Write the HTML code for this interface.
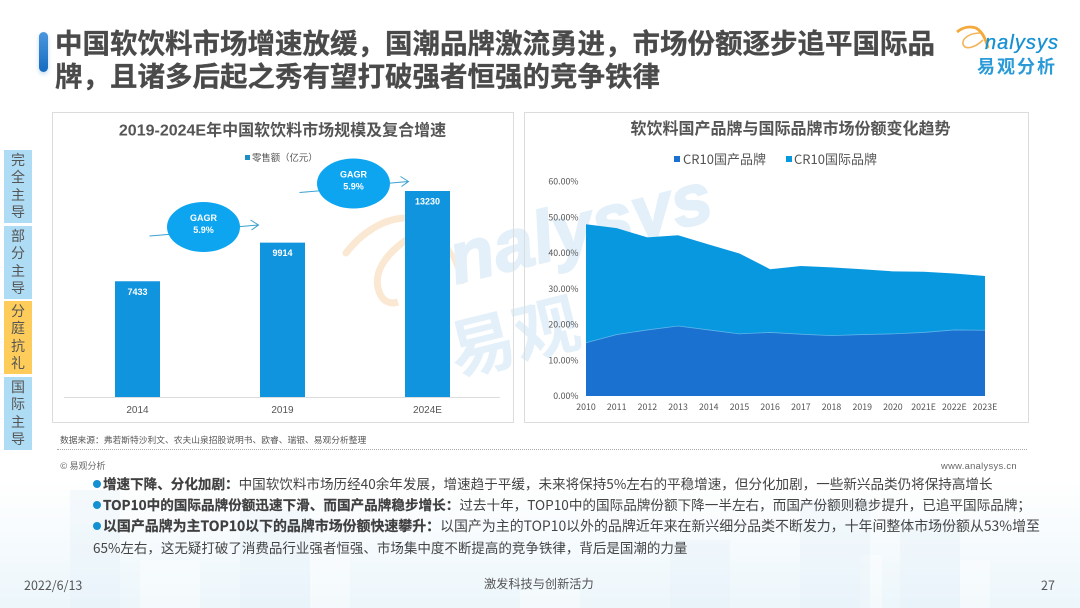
<!DOCTYPE html>
<html lang="zh-CN">
<head>
<meta charset="utf-8">
<title>中国软饮料市场增速放缓</title>
<style>
html,body{margin:0;padding:0;background:#fff;}
body{width:1080px;height:608px;position:relative;overflow:hidden;font-family:"Liberation Sans","Noto Sans CJK SC",sans-serif;color:#444;}
.abs{position:absolute;white-space:nowrap;}
.cjk{font-family:"Noto Sans CJK SC","Liberation Sans",sans-serif;}
.side{position:absolute;left:4px;width:28px;height:73px;background:#aedcf5;color:#555;font-family:"Noto Sans CJK SC",sans-serif;font-size:14px;line-height:17.5px;text-align:center;display:flex;flex-direction:column;justify-content:center;}
.panel{position:absolute;top:112px;height:311px;border:1px solid #dcdcdc;box-sizing:border-box;}
.bullet{position:absolute;left:93px;white-space:nowrap;font-family:"Noto Sans CJK SC",sans-serif;line-height:21px;color:#444;}
.bullet b{font-weight:700;color:#3f3f3f;-webkit-text-stroke:.2px #3f3f3f;}
.bullet i{display:inline-block;width:8px;height:8px;border-radius:50%;background:#1590d2;margin-right:2px;vertical-align:1px;}
svg text{font-family:"Liberation Sans","Noto Sans CJK SC",sans-serif;}
</style>
</head>
<body>

<svg class="abs" style="left:0;top:0" width="1080" height="608">
  <defs>
    <linearGradient id="bgGrad" x1="0" y1="0" x2="0" y2="1">
      <stop offset="0" stop-color="#ffffff"/>
      <stop offset="1" stop-color="#ecf6fb"/>
    </linearGradient>
  </defs>
  <rect x="0" y="480" width="1080" height="128" fill="url(#bgGrad)"/>
  <g fill="#ffffff" opacity="0.4">
    <rect x="140" y="560" width="60" height="48"/>
    <rect x="310" y="545" width="40" height="63"/>
    <rect x="520" y="590" width="60" height="18"/>
    <rect x="860" y="555" width="22" height="53"/>
    <rect x="960" y="560" width="30" height="48"/>
  </g>
  <g fill="#e2f0f7" opacity="0.3">
    <rect x="70" y="490" width="50" height="118"/>
    <rect x="240" y="510" width="70" height="98"/>
    <rect x="670" y="540" width="60" height="68"/>
    <rect x="800" y="500" width="70" height="108"/>
    <rect x="900" y="520" width="60" height="88"/>
  </g>
  <g>
    <path d="M346 253 C362 232 384 219 404 218" fill="none" stroke="#fbe8d3" stroke-width="7" stroke-linecap="round"/>
    <path d="M404 218 C435 222 455 250 462 284" fill="none" stroke="#fbe8d3" stroke-width="5"/>
    <path d="M433 227 C405 236 372 262 378 288 C382 304 392 304 398 302" fill="none" stroke="#fbe8d3" stroke-width="7"/>
  </g>
  <text x="0" y="0" transform="translate(456,284) rotate(-14)" font-size="72" font-style="italic" font-weight="700" fill="#e3f0f9" stroke="#e3f0f9" stroke-width="2" textLength="268">nalysys</text>
  <text x="0" y="0" transform="translate(456,376) rotate(-14)" font-size="66" font-weight="700" fill="#e3f0f9">易观</text>
</svg>

<div class="abs" style="left:39px;top:32px;width:9px;height:40px;border-radius:5px;background:linear-gradient(#4c97de,#156bc0);box-shadow:0 2px 4px rgba(80,140,210,.35)"></div>
<div class="abs cjk" style="left:55px;top:25px;font-size:27.5px;font-weight:700;line-height:33px;color:#4a4a4a;-webkit-text-stroke:.3px #4a4a4a">中国软饮料市场增速放缓，国潮品牌激流勇进，市场份额逐步追平国际品<br>牌，且诸多后起之秀有望打破强者恒强的竞争铁律</div>

<svg class="abs" style="left:950px;top:22px" width="125" height="62">
  <path d="M7 10 C13 5 20 4 26 6 C33 10 36 18 38 26" fill="none" stroke="#f3a93c" stroke-width="2.8"/>
  <path d="M30 11 C20 11 12 16 13 22 C15 29 26 25 33 18" fill="none" stroke="#f3b45a" stroke-width="1.6"/>
  <text x="35" y="27" font-size="20" font-style="italic" fill="#1590d2" stroke="#1590d2" stroke-width="0.3" textLength="73">nalysys</text>
  <text x="27" y="51" font-size="18" font-weight="700" fill="#2a9bd8" letter-spacing="2" style="font-family:'Noto Sans CJK SC',sans-serif">易观分析</text>
</svg>

<div class="side" style="top:150px">完<br>全<br>主<br>导</div>
<div class="side" style="top:226px">部<br>分<br>主<br>导</div>
<div class="side" style="top:301px;background:#fdcc5a">分<br>庭<br>抗<br>礼</div>
<div class="side" style="top:377px">国<br>际<br>主<br>导</div>

<div class="panel" style="left:52px;width:462px"></div>
<div class="panel" style="left:524px;width:505px"></div>

<svg id="chart" class="abs" style="left:0;top:0" width="1080" height="608"></svg>

<div class="abs cjk" style="left:60px;top:433px;font-size:8.75px;line-height:13px;color:#555">数据来源：弗若斯特沙利文、农夫山泉招股说明书、欧睿、瑞银、易观分析整理</div>
<div class="abs" style="left:57px;top:449px;width:970px;border-top:1px dotted #aaa"></div>
<div class="abs cjk" style="left:60px;top:459px;font-size:9px;line-height:13px;color:#666">© 易观分析</div>
<div class="abs" style="left:941px;top:459px;font-size:9.4px;line-height:13px;letter-spacing:.3px;color:#666">www.analysys.cn</div>

<div class="bullet" style="top:473px;font-size:13.57px"><i></i><b>增速下降、分化加剧：</b>中国软饮料市场历经40余年发展，增速趋于平缓，未来将保持5%左右的平稳增速，但分化加剧，一些新兴品类仍将保持高增长</div>
<div class="bullet" style="top:494px;font-size:13.6px"><i></i><b>TOP10中的国际品牌份额迅速下滑、而国产品牌稳步增长：</b>过去十年，TOP10中的国际品牌份额下降一半左右，而国产份额则稳步提升，已追平国际品牌；</div>
<div class="bullet" style="top:516px;font-size:13.93px"><i></i><b>以国产品牌为主TOP10以下的品牌市场份额快速攀升：</b>以国产为主的TOP10以外的品牌近年来在新兴细分品类不断发力，十年间整体市场份额从53%增至</div>
<div class="bullet" style="top:537px;font-size:13.5px">65%左右，这无疑打破了消费品行业强者恒强、市场集中度不断提高的竞争铁律，背后是国潮的力量</div>

<div class="abs cjk" style="left:24px;top:577px;font-size:12.5px;line-height:16px;color:#555">2022/6/13</div>
<div class="abs cjk" style="left:484px;top:575px;font-size:12.2px;line-height:16px;color:#555">激发科技与创新活力</div>
<div class="abs cjk" style="left:1041px;top:577px;font-size:12.5px;line-height:16px;color:#555">27</div>

<script>
var sizeYears = ['2014', '2019', '2024E'];
var sizeValues = [7433, 9914, 13230];
var shareYears = ['2010','2011','2012','2013','2014','2015','2016','2017','2018','2019','2020','2021E','2022E','2023E'];
var domesticShare = [14.9,17.2,18.5,19.6,18.5,17.4,17.8,17.3,16.9,17.2,17.4,17.8,18.5,18.4];
var internationalShare = [33.2,29.8,25.9,25.4,23.9,22.5,17.7,19.1,19.1,18.3,17.5,17.0,15.8,15.2];
var shareTicks = [0,10,20,30,40,50,60];

var svg = document.getElementById('chart');
var NS = 'http://www.w3.org/2000/svg';
var notoFont = '"Noto Sans CJK SC","Liberation Sans",sans-serif';

function mk(tag, attrs, parent) {
  var el = document.createElementNS(NS, tag);
  for (var k in attrs) { el.setAttribute(k, attrs[k]); }
  (parent || svg).appendChild(el);
  return el;
}
function txt(content, x, y, size, fill, anchor, weight, parent) {
  var el = mk('text', {x: x, y: y, 'font-size': size, fill: fill, 'text-anchor': anchor || 'middle', 'font-weight': weight || 400}, parent);
  el.textContent = content;
  return el;
}

/* ---------- left chart ---------- */
var barBase = 397, barScale = 206 / 13230, barW = 45;
function barCenter(i) { return 137.5 + i * 145; }
function barY(v) { return barBase - v * barScale; }

var leftGroup = mk('g', {});



var leftTitle = txt('2019-2024E年中国软饮料市场规模及复合增速', 282.5, 135.5, 16, '#555', 'middle', 700, leftGroup);



var legSwatchL = mk('rect', {x: 245, y: 155, width: 5, height: 5, fill: '#1e8fc6'}, leftGroup);


var legTextL = txt('零售额（亿元）', 252, 161, 9.4, '#555', 'start', 400, leftGroup);



var baseLine = mk('line', {x1: 64, x2: 500, y1: barBase + 0.5, y2: barBase + 0.5, stroke: '#dcdcdc', 'stroke-width': 1}, leftGroup);



sizeValues.forEach(function (v, i) {
  var bar = mk('rect', {x: barCenter(i) - barW / 2, y: barY(v), width: barW, height: barBase - barY(v), fill: '#0f94dd'}, leftGroup);
  
  
  var val = txt(String(v), barCenter(i), barY(v) + 13.5, 9, '#fff', 'middle', 700, leftGroup);
  
  
  var lab = txt(sizeYears[i], barCenter(i), 413, 10, '#555', 'middle', 400, leftGroup);
  
  
});

function cagrBubble(cx, cy, name) {
  var g = mk('g', {}, leftGroup);
  
  
  mk('path', {d: 'M' + (cx - 54) + ' ' + (cy + 9) + ' L' + (cx - 30) + ' ' + (cy + 7), stroke: '#3aa0d0', 'stroke-width': 1, fill: 'none'}, g);
  mk('path', {d: 'M' + (cx + 32) + ' ' + cy + ' L' + (cx + 55) + ' ' + (cy - 2) + ' M' + (cx + 47) + ' ' + (cy - 7) + ' L' + (cx + 55) + ' ' + (cy - 2) + ' L' + (cx + 48) + ' ' + (cy + 3), stroke: '#3aa0d0', 'stroke-width': 1, fill: 'none'}, g);
  mk('ellipse', {cx: cx, cy: cy, rx: 36.5, ry: 25, fill: '#0ea5f0'}, g);
  txt('GAGR', cx, cy - 6, 9, '#fff', 'middle', 700, g);
  txt('5.9%', cx, cy + 6, 9, '#fff', 'middle', 700, g);
}
cagrBubble(203.5, 227, 'cagr-bubble-2014-2019');
cagrBubble(353.5, 183.5, 'cagr-bubble-2019-2024');

/* ---------- right chart ---------- */
var x0 = 586, xStep = (985 - 586) / 13, y0 = 396, yPerPct = 214.3 / 60;
function shareX(i) { return x0 + i * xStep; }
function shareY(v) { return y0 - v * yPerPct; }

var rightGroup = mk('g', {});



var rightTitle = txt('软饮料国产品牌与国际品牌市场份额变化趋势', 790.5, 134, 16, '#555', 'middle', 700, rightGroup);



var swatchA = mk('rect', {x: 674, y: 156, width: 6, height: 6, fill: '#1a71cf'}, rightGroup);


var legA = txt('CR10国产品牌', 683, 164, 13, '#555', 'start', 400, rightGroup);
legA.style.fontFamily = notoFont;


var swatchB = mk('rect', {x: 786, y: 156, width: 6, height: 6, fill: '#0798e0'}, rightGroup);


var legB = txt('CR10国际品牌', 794, 164, 13, '#555', 'start', 400, rightGroup);
legB.style.fontFamily = notoFont;



var bottomPts = domesticShare.map(function (v, i) { return shareX(i) + ',' + shareY(v); });
var topPts = internationalShare.map(function (v, i) { return shareX(i) + ',' + shareY(v + domesticShare[i]); });

var areaIntl = mk('polygon', {points: topPts.concat(bottomPts.slice().reverse()).join(' '), fill: '#0798e0'}, rightGroup);



var areaDom = mk('polygon', {points: bottomPts.concat([shareX(13) + ',' + y0, shareX(0) + ',' + y0]).join(' '), fill: '#1a71cf'}, rightGroup);



var edge = mk('polyline', {points: bottomPts.join(' '), fill: 'none', stroke: '#5cb4ea', 'stroke-width': 0.8}, rightGroup);



shareTicks.forEach(function (t) {
  var tick = txt(t.toFixed(2) + '%', 578.5, shareY(t) + 3, 8.8, '#555', 'end', 400, rightGroup);
  tick.style.fontFamily = notoFont;
  
  
});
shareYears.forEach(function (y, i) {
  var lab = txt(y, shareX(i), 410, 8.8, '#555', 'middle', 400, rightGroup);
  lab.style.fontFamily = notoFont;
  
  
});
</script>
</body>
</html>
